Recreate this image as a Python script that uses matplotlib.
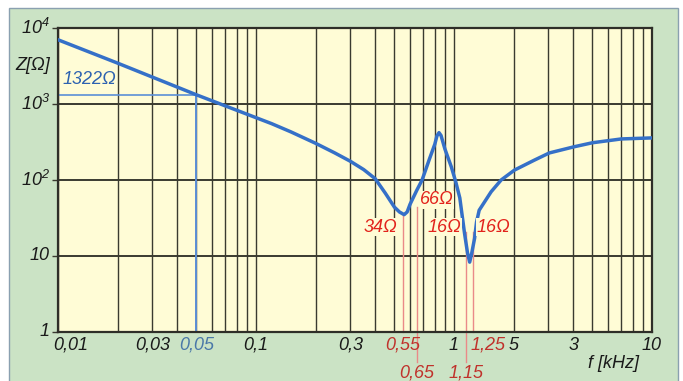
import numpy as np
import matplotlib.pyplot as plt
from matplotlib.patches import Rectangle
from matplotlib.ticker import LogLocator, NullFormatter

plt.rcParams['font.family'] = ['Liberation Sans', 'DejaVu Sans']
plt.rcParams['mathtext.fontset'] = 'custom'
plt.rcParams['mathtext.rm'] = 'Liberation Sans:italic'
plt.rcParams['mathtext.it'] = 'Liberation Sans:italic'

# impedance curve
f_khz = [0.01, 0.02, 0.05, 0.1, 0.12, 0.15, 0.2, 0.25, 0.3, 0.35, 0.4, 0.45,
         0.5, 0.53, 0.56, 0.58, 0.6, 0.65, 0.69, 0.75, 0.8, 0.82, 0.84, 0.86,
         0.9, 0.97, 1.02, 1.07, 1.13, 1.17, 1.2, 1.23, 1.27, 1.3, 1.34, 1.54,
         1.73, 2.02, 2.54, 3.03, 4.05, 5.0, 7.0, 10.0]
z_ohm = [7000, 3450, 1322, 661, 551, 430, 304, 227, 176, 137, 104, 67,
         44, 38, 35, 38, 48, 74, 100, 186, 296, 380, 420, 385,
         255, 148, 95, 58, 20, 11, 8.3, 11, 17, 28, 40, 70,
         100, 135, 182, 227, 274, 309, 347, 358]

# x axis labels (position, text, colour, row)
xlab_pos = [0.01, 0.03, 0.05, 0.1, 0.3, 0.55, 0.65, 1, 1.15, 1.25, 2, 4, 10]
xlab_txt = ['0,01', '0,03', '0,05', '0,1', '0,3', '0,55', '0,65', '1', '1,15',
            '1,25', '5', '3', '10']
xlab_col = ['k', 'k', 'b', 'k', 'k', 'r', 'r', 'k', 'r', 'r', 'k', 'k', 'k']
xlab_row = [0, 0, 0, 0, 0, 0, 1, 0, 1, 0, 0, 0, 0]

ylab_pos = [1, 10, 100, 1000, 10000]
ylab_txt = ['1', '10', '$10^2$', '$10^3$', '$10^4$']

# marked frequencies
mark_f = [0.55, 0.65, 1.15, 1.25]
mark_top = [35, 44, 20.7, 20.7]
mark_bottom = [1, 0.4, 0.4, 1]

ref_f, ref_z = 0.05, 1322

notes = ['34\u03a9', '66\u03a9', '16\u03a9', '16\u03a9']
note_f = [0.426, 0.815, 0.895, 1.58]
note_z = [24, 54.6, 24, 24]

GREEN = '#cbe3c5'
YELLOW = '#fffcd6'
BLUE = '#3570c8'
RED = '#e2231c'
DRED = '#c0322c'
GRID = '#3a3a30'
FS = 13

W, H = 683, 381
fig = plt.figure(figsize=(W / 100, H / 100), dpi=100)
fig.patch.set_facecolor('white')
fig.patches.append(Rectangle((9 / W, -0.01), (678 - 9) / W, (381 - 8) / H + 0.01,
                             transform=fig.transFigure, fc=GREEN, ec='#8aa0b0',
                             lw=1.0, zorder=-10))

x0, x1, y0, y1 = 58, 652, 28, 332
ax = fig.add_axes([x0 / W, (H - y1) / H, (x1 - x0) / W, (y1 - y0) / H])
ax.set_xscale('log')
ax.set_yscale('log')
ax.set_xlim(0.01, 10)
ax.set_ylim(1, 1e4)
ax.set_facecolor(YELLOW)

ax.xaxis.set_major_locator(LogLocator(base=10))
ax.xaxis.set_minor_locator(LogLocator(base=10, subs=np.arange(2, 10)))
ax.xaxis.set_major_formatter(NullFormatter())
ax.xaxis.set_minor_formatter(NullFormatter())
ax.yaxis.set_major_locator(LogLocator(base=10))
ax.yaxis.set_minor_locator(LogLocator(base=10, subs=[]))
ax.yaxis.set_major_formatter(NullFormatter())
ax.tick_params(axis='x', which='both', length=0)
ax.tick_params(axis='y', which='major', direction='out', length=4.5, width=1.0,
               color=GRID)
ax.xaxis.grid(True, which='both', color=GRID, lw=1.0)
ax.yaxis.grid(True, which='major', color=GRID, lw=1.4)
ax.set_axisbelow(True)
for s in ax.spines.values():
    s.set_color('#2e2e28')
    s.set_linewidth(1.6)

# reference lines for 1322 ohm
ax.plot([0.01, ref_f], [ref_z, ref_z], color='#5b8fd6', lw=1.2, zorder=2)
ax.plot([ref_f, ref_f], [1, ref_z], color='#5b8fd6', lw=1.4, zorder=2)
ax.text(0.0105, ref_z * 1.22, '1322\u03a9', color='#2d62b0', fontsize=FS,
        style='italic', ha='left', va='bottom')

# red marker lines
for f, top, bot in zip(mark_f, mark_top, mark_bottom):
    ax.plot([f, f], [bot, top], color='#ea8a88', lw=1.0, zorder=2, clip_on=False)

ax.plot(f_khz, z_ohm, color=BLUE, lw=2.5, zorder=4, solid_capstyle='round',
        solid_joinstyle='round')

for t, f, z in zip(notes, note_f, note_z):
    ax.text(f, z, t, color=RED, fontsize=FS, style='italic', ha='center',
            va='center', zorder=5,
            bbox=dict(fc=YELLOW, ec='none', pad=0.4))

# axis labels
cols = {'k': '#1a1a1a', 'b': '#4a78a8', 'r': DRED}
trans = ax.get_xaxis_transform()
for pos, txt, c, row in zip(xlab_pos, xlab_txt, xlab_col, xlab_row):
    base = 350 if row == 0 else 377
    ha = 'center'
    if txt == '0,01':
        ha = 'left'
        pos = pos * 0.95
    elif txt == '1,25':
        ha = 'left'
        pos = pos * 0.97
    ax.text(pos, (y1 - base) / (y1 - y0), txt, transform=trans, color=cols[c],
            fontsize=FS, style='italic', ha=ha, va='baseline', clip_on=False)

ax.text((614 - x0) / (x1 - x0), (y1 - 363) / (y1 - y0), 'f [kHz]',
        transform=ax.transAxes, fontsize=FS, style='italic', ha='center',
        va='center', color='#1a1a1a')

ytrans = ax.get_yaxis_transform()
for pos, txt in zip(ylab_pos, ylab_txt):
    ax.text((50 - x0) / (x1 - x0), pos, txt, transform=ytrans, fontsize=FS,
            style='italic', ha='right', va='center', color='#1a1a1a')
ax.text((50 - x0) / (x1 - x0), (y1 - 65) / (y1 - y0), 'Z[\u03a9]',
        transform=ax.transAxes, fontsize=FS, style='italic', ha='right',
        va='center', color='#1a1a1a')

fig.savefig('out.png', dpi=100, facecolor=fig.get_facecolor())
